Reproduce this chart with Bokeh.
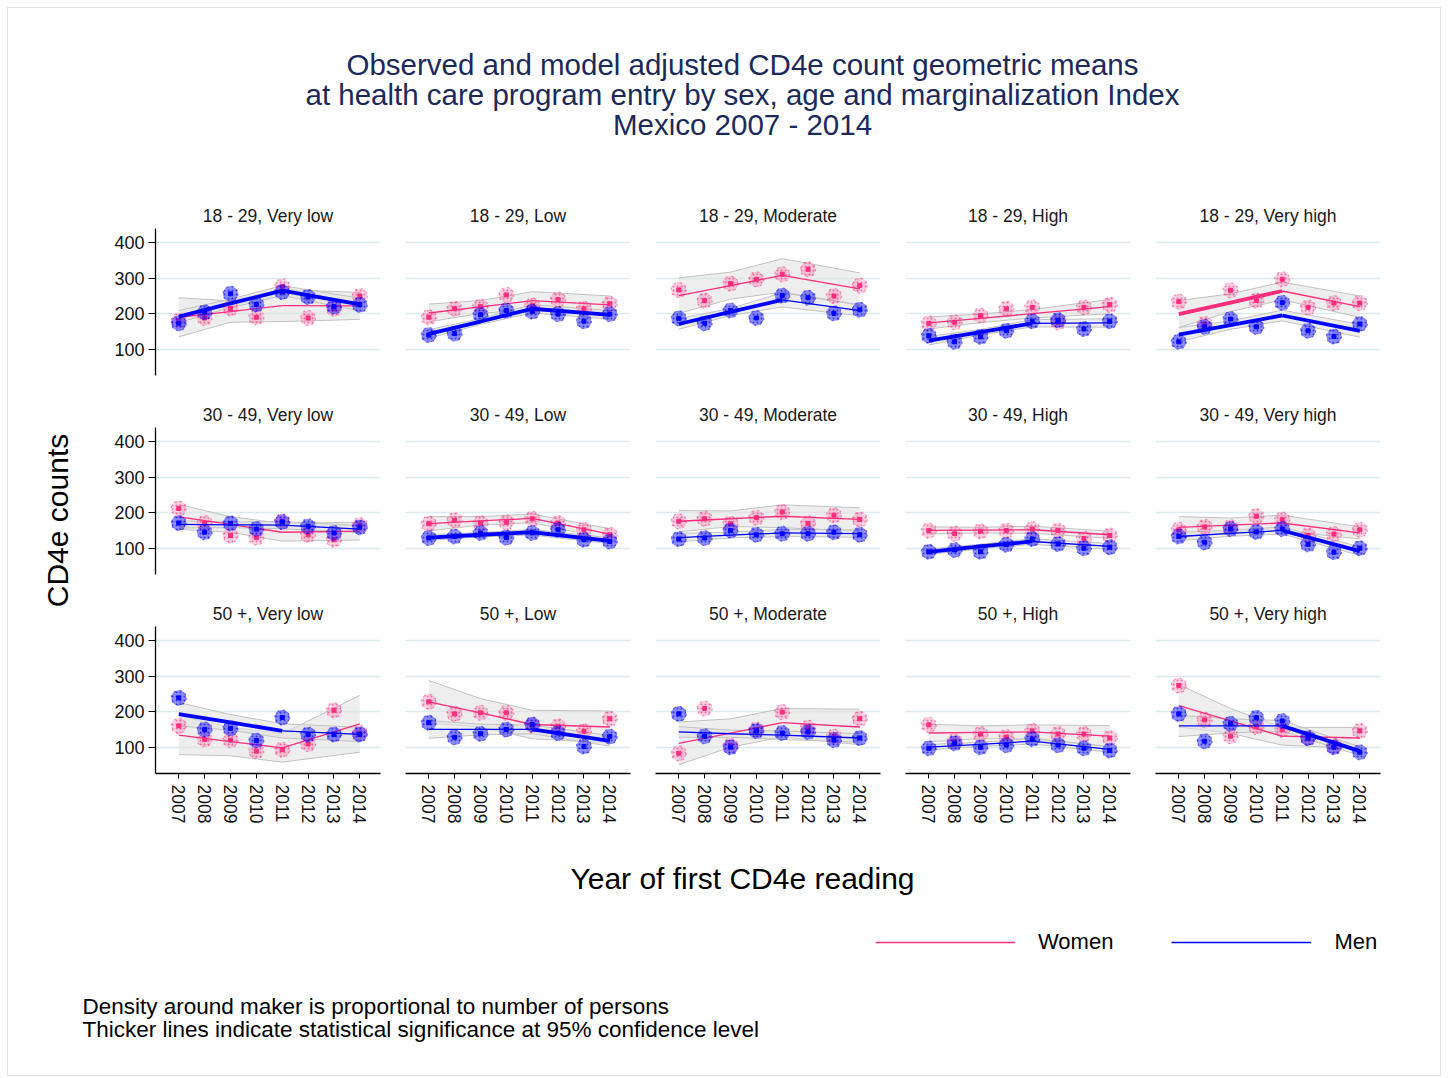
import math
from bokeh.plotting import figure
from bokeh.layouts import column, row, gridplot
from bokeh.models import Range1d, FixedTicker, Legend, LegendItem
from bokeh.core.properties import value
from bokeh.embed import file_html
from bokeh.resources import INLINE

FONT = "Liberation Sans"
PINK = "#ff2d7e"
BLUE = "#0000ff"
GRID = "#dcebee"
BAND_FILL = "#e2e2e2"
BAND_LINE = "#c2c2c2"
TITLE_COLOR = "#1b2a5a"

title_lines = ["Observed and model adjusted CD4e count geometric means",
               "at health care program entry by sex, age and marginalization Index",
               "Mexico 2007 - 2014"]
ages = ["18 - 29", "30 - 49", "50 +"]
margs = ["Very low", "Low", "Moderate", "High", "Very high"]
years = [2007, 2008, 2009, 2010, 2011, 2012, 2013, 2014]
knots = [2007, 2009, 2011, 2014]
y_ticks = [100, 200, 300, 400]

# observed geometric means, panels row-major (age x marginalization)
women_obs = [
    [180, 188, 215, 190, 277, 188, 214, 250],
    [190, 214, 220, 253, 223, 240, 214, 228],
    [267, 237, 285, 297, 311, 325, 250, 279],
    [173, 176, 195, 214, 218, 176, 218, 225],
    [234, 171, 266, 237, 297, 218, 230, 230],
    [212, 171, 136, 130, 176, 138, 124, 165],
    [169, 179, 171, 173, 183, 171, 152, 138],
    [176, 183, 169, 186, 202, 170, 193, 181],
    [150, 141, 148, 150, 154, 150, 127, 136],
    [152, 160, 159, 190, 181, 136, 140, 152],
    [160, 122, 120, 89, 93, 109, 204, 140],
    [228, 194, 197, 197, 162, 159, 145, 180],
    [83, 209, 105, 150, 199, 155, 130, 180],
    [163, 117, 137, 129, 146, 137, 137, 126],
    [274, 177, 131, 157, 149, 126, 103, 146],
]
men_obs = [
    [173, 204, 256, 226, 261, 247, 220, 225],
    [140, 144, 197, 209, 206, 199, 179, 199],
    [187, 173, 209, 188, 251, 245, 201, 211],
    [138, 121, 135, 152, 179, 182, 157, 179],
    [121, 163, 185, 163, 231, 152, 136, 171],
    [171, 145, 170, 154, 174, 162, 143, 159],
    [129, 133, 143, 130, 143, 152, 124, 119],
    [126, 129, 150, 138, 141, 141, 145, 138],
    [90, 95, 90, 110, 126, 112, 100, 103],
    [133, 117, 154, 146, 154, 111, 89, 100],
    [239, 150, 153, 119, 184, 136, 136, 136],
    [169, 128, 138, 150, 164, 140, 102, 130],
    [194, 131, 100, 146, 140, 143, 120, 126],
    [97, 111, 100, 106, 123, 106, 97, 91],
    [194, 117, 166, 183, 174, 126, 100, 86],
]
# model adjusted values at knots 2007, 2009, 2011, 2014
women_fit = [
    [190, 206, 223, 222], [202, 219, 237, 225], [251, 279, 308, 270],
    [174, 187, 200, 220], [199, 231, 264, 220],
    [188, 167, 145, 148], [169, 177, 184, 140], [176, 183, 190, 181],
    [150, 151, 152, 138], [159, 165, 171, 143],
    [134, 116, 98, 166], [228, 197, 164, 157], [111, 140, 169, 157],
    [140, 142, 143, 131], [217, 174, 131, 126],
]
women_ci = [
    [55, 30, 45, 38], [25, 18, 25, 25], [50, 38, 47, 45], [17, 12, 12, 20], [38, 25, 25, 30],
    [35, 22, 25, 25], [20, 12, 12, 15], [30, 22, 32, 33], [10, 8, 10, 10], [30, 20, 22, 17],
    [55, 40, 40, 80], [60, 40, 40, 45], [60, 40, 40, 50], [25, 18, 20, 30], [60, 35, 25, 30],
]
men_fit = [
    [192, 229, 265, 226], [143, 178, 214, 197], [171, 205, 239, 209],
    [124, 148, 173, 174], [141, 168, 195, 152],
    [167, 166, 165, 154], [130, 138, 145, 121], [130, 137, 143, 141],
    [90, 105, 119, 105], [133, 142, 150, 92],
    [193, 170, 146, 136], [150, 150, 150, 118], [143, 138, 134, 126],
    [100, 108, 117, 94], [160, 160, 160, 89],
]
men_ci = [
    [17, 12, 14, 18], [12, 8, 12, 12], [15, 10, 20, 15], [12, 8, 10, 12], [20, 12, 15, 18],
    [10, 8, 10, 10], [8, 6, 8, 8], [12, 8, 10, 10], [8, 6, 8, 8], [12, 8, 10, 12],
    [33, 22, 20, 20], [25, 15, 12, 15], [15, 10, 12, 12], [8, 6, 8, 8], [30, 20, 15, 12],
]
# significance of segment 2007-2011 and 2011-2014
women_sig = [[0, 0], [0, 0], [0, 0], [0, 0], [1, 0],
             [0, 0], [0, 0], [0, 0], [0, 0], [0, 0],
             [0, 0], [0, 0], [0, 0], [0, 0], [0, 0]]
men_sig = [[1, 1], [1, 1], [1, 0], [1, 0], [1, 1],
           [0, 0], [1, 1], [0, 0], [1, 0], [0, 1],
           [1, 0], [0, 1], [0, 0], [0, 0], [0, 1]]

FRAME_W, FRAME_H = 225, 147
TOP, RIGHT, LEFT0 = 40, 25, 57


def draw_band(p, fit, ci):
    lo = [f - c for f, c in zip(fit, ci)]
    hi = [f + c for f, c in zip(fit, ci)]
    p.varea(x=knots, y1=lo, y2=hi, fill_color=BAND_FILL, fill_alpha=0.6)
    p.line(knots, lo, line_color=BAND_LINE, line_width=1)
    p.line(knots, hi, line_color=BAND_LINE, line_width=1)


def draw_marks(p, obs, fit, sig, color, alpha):
    p.scatter(years, obs, marker="circle", size=15, fill_color=color, fill_alpha=alpha,
              line_color=color, line_alpha=0.5, line_width=1.2, line_dash="dotted",
              hatch_pattern="dot", hatch_color=color, hatch_alpha=0.6, hatch_scale=4)
    p.scatter(years, obs, marker="square", size=4, fill_color=color, line_color=color)
    p.line(knots[:3], fit[:3], line_color=color, line_width=3.8 if sig[0] else 1.3)
    p.line(knots[2:], fit[2:], line_color=color, line_width=3.8 if sig[1] else 1.3)


def make_panel(i):
    r, c = divmod(i, 5)
    left = LEFT0 if c == 0 else 0
    bottom = 60 if r == 2 else 12
    p = figure(width=left + FRAME_W + RIGHT, height=TOP + FRAME_H + bottom,
               x_range=Range1d(2006.1, 2014.8), y_range=Range1d(26, 440),
               output_backend="svg", toolbar_location=None,
               x_axis_location="below" if r == 2 else None,
               y_axis_location="left" if c == 0 else None,
               min_border_left=left, min_border_right=RIGHT, min_border_top=TOP,
               min_border_bottom=bottom, title=f"{ages[r]}, {margs[c]}")
    p.outline_line_color = None
    p.title.align = "center"
    p.title.text_font = FONT
    p.title.text_font_size = "17.5px"
    p.title.text_font_style = "normal"
    p.title.text_color = "#1a1a1a"
    p.title.standoff = 6
    p.xgrid.visible = False
    p.ygrid.ticker = FixedTicker(ticks=y_ticks)
    p.ygrid.grid_line_color = GRID
    p.ygrid.grid_line_width = 1.5
    if c == 0:
        ax = p.yaxis[0]
        ax.ticker = FixedTicker(ticks=y_ticks)
        ax.major_label_text_font = FONT
        ax.major_label_text_font_size = "18px"
        ax.major_label_text_color = "#111111"
        ax.major_tick_out = 7
        ax.major_tick_in = 0
        ax.minor_tick_line_color = None
        ax.axis_line_width = 1.3
        ax.major_label_standoff = 4
    if r == 2:
        ax = p.xaxis[0]
        ax.ticker = FixedTicker(ticks=years)
        ax.major_label_orientation = "vertical"
        ax.major_label_text_font = FONT
        ax.major_label_text_font_size = "17.5px"
        ax.major_label_text_color = "#111111"
        ax.major_tick_out = 5
        ax.major_tick_in = 0
        ax.minor_tick_line_color = None
        ax.axis_line_width = 1.3
        ax.major_label_standoff = 6
    draw_band(p, women_fit[i], women_ci[i])
    draw_band(p, men_fit[i], men_ci[i])
    draw_marks(p, women_obs[i], women_fit[i], women_sig[i], PINK, 0.22)
    draw_marks(p, men_obs[i], men_fit[i], men_sig[i], BLUE, 0.45)
    return p


def canvas(w, h):
    p = figure(width=w, height=h, x_range=Range1d(0, w), y_range=Range1d(0, h),
               x_axis_type=None, y_axis_type=None, output_backend="svg",
               toolbar_location=None, min_border=0)
    p.outline_line_color = None
    p.grid.visible = False
    return p


W = 1432
header = canvas(W, 180)
header.text(x=[734, 734, 734], y=[124, 94, 64], text=title_lines, text_align="center",
            text_baseline="middle", text_font=value(FONT), text_font_size="29.5px",
            text_color=TITLE_COLOR)

panels = [make_panel(i) for i in range(15)]
grid = gridplot([panels[0:5], panels[5:10], panels[10:15]], toolbar_location=None)

strip_h = 2 * (TOP + FRAME_H + 12) + (TOP + FRAME_H + 60)
strip = canvas(90, strip_h)
strip.text(x=[49], y=[strip_h - 332], text=["CD4e counts"], angle=math.pi / 2,
           text_align="center", text_baseline="middle", text_font=value(FONT),
           text_font_size="30px", text_color="#000000")

bottom = canvas(W, 242)
bottom.text(x=[734], y=[197], text=["Year of first CD4e reading"], text_align="center",
            text_baseline="middle", text_font=value(FONT), text_font_size="30px",
            text_color="#000000")
bottom.text(x=[74, 74], y=[69, 46],
            text=["Density around maker is proportional to number of persons",
                  "Thicker lines indicate statistical significance at 95% confidence level"],
            text_align="left", text_baseline="middle", text_font=value(FONT),
            text_font_size="22.5px", text_color="#000000")
# legend renderers kept outside the visible range; only their legend glyphs show
rw = bottom.line(x=[-20, -10], y=[-20, -20], line_color=PINK, line_width=1.5)
rm = bottom.line(x=[-20, -10], y=[-20, -20], line_color=BLUE, line_width=1.5)
legend = Legend(items=[LegendItem(label="Women", renderers=[rw]),
                       LegendItem(label="Men", renderers=[rm])],
                orientation="horizontal", location=(867, 120), glyph_width=140,
                glyph_height=20, label_standoff=23, spacing=58, padding=0, margin=0,
                border_line_color=None, background_fill_alpha=0,
                label_text_font=FONT, label_text_font_size="22px",
                label_text_color="#000000")
bottom.add_layout(legend)

layout = column(header, row(strip, grid), bottom, margin=(8, 8, 8, 8),
                styles={"outline": "1px solid #e2e2e2"})

open("out.html", "w").write(file_html(layout, INLINE))
